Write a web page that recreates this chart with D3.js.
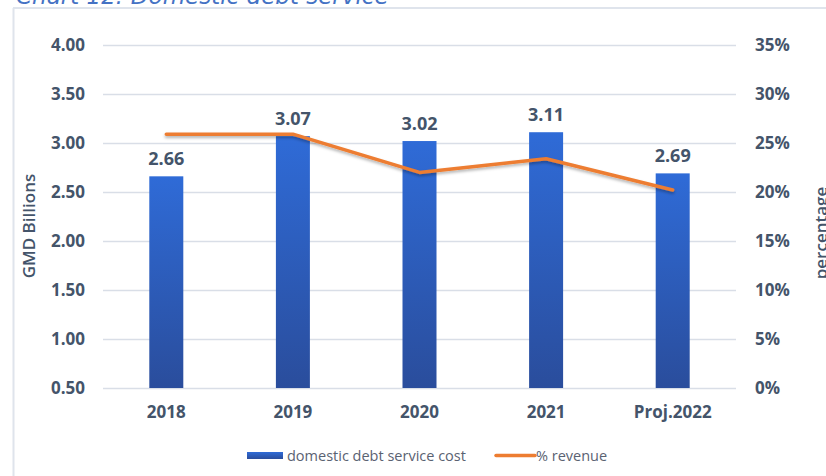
<!DOCTYPE html>
<html><head><meta charset="utf-8">
<script src="https://cdn.jsdelivr.net/npm/d3@7"></script>
<style>
html,body{margin:0;padding:0;background:#fff;}
svg{display:block;}
</style></head>
<body>
<svg id="chart" width="826" height="476"></svg>
<script>
const categories = ["2018", "2019", "2020", "2021", "Proj.2022"];
const debtService = [2.66, 3.07, 3.02, 3.11, 2.69];
const pctRevenue = [25.9, 25.9, 22.0, 23.4, 20.2];
const leftTicks = [0.5, 1.0, 1.5, 2.0, 2.5, 3.0, 3.5, 4.0];
const rightTicks = [0, 5, 10, 15, 20, 25, 30, 35];

const svg = d3.select("#chart");
const defs = svg.append("defs");
const grad = defs.append("linearGradient").attr("id","barGrad").attr("x1",0).attr("y1",0).attr("x2",0).attr("y2",1);
grad.append("stop").attr("offset","0%").attr("stop-color","#2f6bd7");
grad.append("stop").attr("offset","100%").attr("stop-color","#2a4d9c");
const f = defs.append("filter").attr("id","shadow").attr("x","-10%").attr("y","-50%").attr("width","120%").attr("height","200%");
f.append("feDropShadow").attr("dx",0).attr("dy",2).attr("stdDeviation",1.5).attr("flood-color","#000").attr("flood-opacity",0.3);

// frame
svg.append("line").attr("x1",13.5).attr("x2",13.5).attr("y1",8).attr("y2",476).attr("stroke","#dfe4ec").attr("stroke-width",2);
svg.append("line").attr("x1",13).attr("x2",826).attr("y1",8).attr("y2",8).attr("stroke","#dfe4ec").attr("stroke-width",2);

// title (cut off at top, as in the reference)
svg.append("text").attr("x",16).attr("y",4).attr("font-family","'DejaVu Sans', sans-serif").attr("font-style","italic")
  .attr("font-size",23).attr("fill","#4472c4").text("Chart 12: Domestic debt service");

const x = d3.scaleBand().domain(categories).range([103, 736]);
const yL = d3.scaleLinear().domain([0.5, 4.0]).range([388, 45]);
const yR = d3.scaleLinear().domain([0, 35]).range([388, 45]);

const textColor = "#44546a";
const font = "'Open Sans', 'DejaVu Sans', sans-serif";

// gridlines
svg.append("g").selectAll("line").data(leftTicks).join("line")
  .attr("x1",103).attr("x2",736).attr("y1",d=>Math.round(yL(d))+0.5).attr("y2",d=>Math.round(yL(d))+0.5)
  .attr("stroke","#d9dee7").attr("stroke-width",1.5);

// left axis
const axL = d3.axisLeft(yL).tickValues(leftTicks).tickFormat(d3.format(".2f")).tickSize(0).tickPadding(0);
const gL = svg.append("g").attr("transform","translate(85,0)").call(axL);
gL.select(".domain").remove();
gL.selectAll("text").attr("font-family",font).attr("font-weight","bold").attr("font-size",17).attr("fill",textColor);

// right axis
const axR = d3.axisRight(yR).tickValues(rightTicks).tickFormat(d=>d+"%").tickSize(0).tickPadding(0);
const gR = svg.append("g").attr("transform","translate(755,0)").call(axR);
gR.select(".domain").remove();
gR.selectAll("text").attr("font-family",font).attr("font-weight","bold").attr("font-size",17).attr("fill",textColor);

// x axis
const axX = d3.axisBottom(x).tickSize(0).tickPadding(0);
const gX = svg.append("g").attr("transform","translate(0,406)").call(axX);
gX.select(".domain").remove();
gX.selectAll("text").attr("font-family",font).attr("font-weight","bold").attr("font-size",17).attr("fill",textColor);

// axis titles
svg.append("text").attr("transform","translate(35,226) rotate(-90)").attr("text-anchor","middle")
  .attr("font-family",font).attr("font-weight","600").attr("font-size",17).attr("fill",textColor).text("GMD Billions");
svg.append("text").attr("transform","translate(827,233) rotate(-90)").attr("text-anchor","middle")
  .attr("font-family",font).attr("font-weight","600").attr("font-size",17).attr("fill",textColor).text("percentage");

// bars
const bw = 34;
svg.append("g").selectAll("rect").data(debtService).join("rect")
  .attr("x",(d,i)=>x(categories[i])+x.bandwidth()/2-bw/2).attr("width",bw)
  .attr("y",d=>yL(d)).attr("height",d=>yL(0.5)-yL(d)).attr("fill","url(#barGrad)");

// labels
svg.append("g").selectAll("text").data(debtService).join("text")
  .attr("x",(d,i)=>x(categories[i])+x.bandwidth()/2).attr("y",d=>yL(d)-11)
  .attr("text-anchor","middle").attr("font-family",font).attr("font-weight","bold").attr("font-size",18)
  .attr("fill",textColor).text(d=>d.toFixed(2));

// line
const line = d3.line().x((d,i)=>x(categories[i])+x.bandwidth()/2).y(d=>yR(d));
svg.append("path").datum(pctRevenue).attr("d",line).attr("fill","none").attr("stroke","#ed7d31")
  .attr("stroke-width",3.5).attr("stroke-linecap","round").attr("stroke-linejoin","round").attr("filter","url(#shadow)");

// legend
svg.append("rect").attr("x",247).attr("y",452).attr("width",36).attr("height",7).attr("fill","url(#barGrad)");
svg.append("text").attr("x",287).attr("y",461).attr("font-family",font).attr("font-size",14.5).attr("fill","#5a6272").text("domestic debt service cost");
svg.append("line").attr("x1",496).attr("x2",535).attr("y1",455.5).attr("y2",455.5).attr("stroke","#ed7d31").attr("stroke-width",3.5).attr("stroke-linecap","round");
svg.append("text").attr("x",536).attr("y",461).attr("font-family",font).attr("font-size",14.5).attr("fill","#5a6272").text("% revenue");
</script>
</body></html>
